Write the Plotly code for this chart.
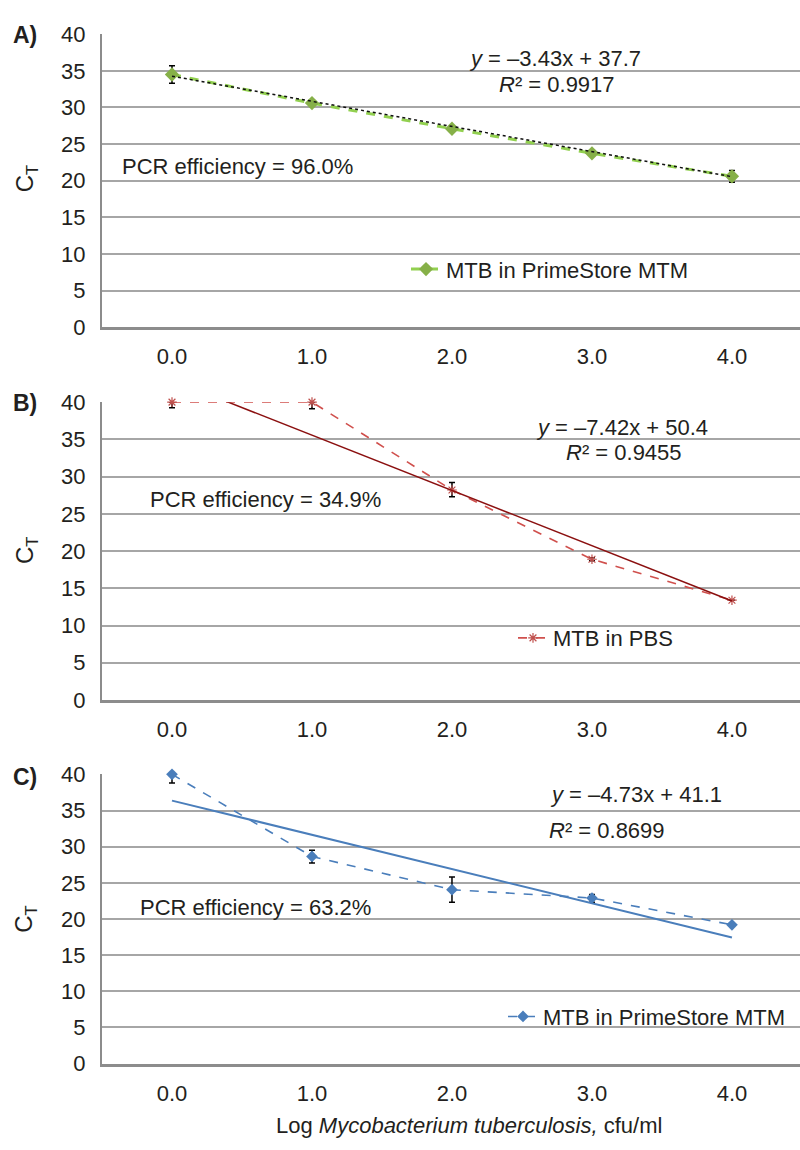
import plotly.graph_objects as go

# ---------------- data ----------------
log_cfu = [0, 1, 2, 3, 4]
tick_labels = ["0.0", "1.0", "2.0", "3.0", "4.0"]

# Panel A: MTB in PrimeStore MTM
a_ct = [34.5, 30.6, 27.1, 23.75, 20.6]
a_err_plus = [1.2, 0.2, 0.2, 0.2, 0.8]
a_err_minus = [1.2, 0.2, 0.2, 0.2, 0.8]

# Panel B: MTB in PBS
b_ct = [40.0, 40.0, 28.2, 18.9, 13.4]
b_err_plus = [0.0, 0.0, 1.0, 0.2, 0.0]
b_err_minus = [0.75, 0.9, 0.9, 0.2, 0.0]

# Panel C: MTB in PrimeStore MTM
c_ct = [40.0, 28.65, 24.05, 22.9, 19.2]
c_err_plus = [0.0, 0.85, 1.75, 0.5, 0.0]
c_err_minus = [1.2, 0.9, 1.75, 0.6, 0.0]

# Linear trend lines (Excel fit, x = category index 1..5)
slopes = [-3.43, -7.42, -4.73]
intercepts = [37.7, 50.4, 41.1]
r2_values = ["0.9917", "0.9455", "0.8699"]
efficiencies = ["96.0%", "34.9%", "63.2%"]
series_names = ["MTB in PrimeStore MTM", "MTB in PBS", "MTB in PrimeStore MTM"]
panel_letters = ["A", "B", "C"]

FONT = "Liberation Sans, Arial, Helvetica, sans-serif"
TXT = "#231F20"
W, H = 800, 1150

def px_x(p):
    return p / W

def px_y(p):
    return 1 - p / H

fig = go.Figure()

panels = [
    dict(ct=a_ct, ep=a_err_plus, em=a_err_minus,
         line=dict(color="#92D050", width=3, dash="dash"),
         marker=dict(symbol="diamond", size=11, color="#86B048"),
         trend=dict(color="#111111", width=1.5, dash="dot")),
    dict(ct=b_ct, ep=b_err_plus, em=b_err_minus,
         line=dict(color="#D0504D", width=1.6, dash="dash"),
         marker=dict(symbol="asterisk-open", size=8, color="#C0504D",
                     line=dict(color="#C0504D", width=1.2)),
         trend=dict(color="#8B1010", width=1.5)),
    dict(ct=c_ct, ep=c_err_plus, em=c_err_minus,
         line=dict(color="#4A7EBB", width=1.6, dash="dash"),
         marker=dict(symbol="diamond", size=9, color="#4A7EBB"),
         trend=dict(color="#4A7EBB", width=2)),
]

# pixel geometry of each panel (top of y=40, bottom of y=0)
panel_px = [(22.7, 322.3), (398.8, 703.3), (779.3, 1075.0)]
legend_pos = [(406, 263), (513, 640), (503, 1027)]

for i, p in enumerate(panels):
    ax = "" if i == 0 else str(i + 1)
    xref, yref = "x" + ax, "y" + ax
    leg = "legend" if i == 0 else "legend" + str(i + 1)
    fig.add_trace(go.Scatter(
        x=log_cfu, y=p["ct"], mode="lines+markers",
        name=series_names[i], line=p["line"], marker=p["marker"],
        error_y=dict(type="data", symmetric=False, array=p["ep"],
                     arrayminus=p["em"], color="#000000", thickness=1.5, width=3),
        cliponaxis=False, xaxis=xref, yaxis=yref, legend=leg, showlegend=True,
    ))
    xs = [log_cfu[0], log_cfu[-1]]
    ys = [slopes[i] * (x + 1) + intercepts[i] for x in xs]
    fig.add_trace(go.Scatter(
        x=xs, y=ys, mode="lines", line=p["trend"], showlegend=False,
        hoverinfo="skip", xaxis=xref, yaxis=yref,
    ))

    top, bot = panel_px[i]
    dom = [1 - bot / H, 1 - top / H]
    fig.update_layout(**{
        "xaxis" + ax: dict(
            domain=[102 / W, 1.0], range=[-0.5, 4.486],
            tickvals=log_cfu, ticktext=tick_labels,
            showgrid=False, zeroline=False, showline=True,
            linecolor="#8C8C8C", linewidth=2.5, ticks="",
            tickfont=dict(family=FONT, size=22, color=TXT),
            ticklabelstandoff=8, anchor=yref,
        ),
        "yaxis" + ax: dict(
            domain=dom, range=[0, 40], dtick=5, tick0=0,
            showgrid=True, gridcolor="#A6A6A6", gridwidth=1.5,
            zeroline=False, showline=True, linecolor="#8C8C8C", linewidth=2,
            ticks="", tickfont=dict(family=FONT, size=22, color=TXT),
            ticklabelstandoff=10, anchor=xref,
        ),
        leg: dict(
            x=px_x(legend_pos[i][0]), y=px_y(legend_pos[i][1]),
            xanchor="left", yanchor="middle", bgcolor="rgba(0,0,0,0)",
            font=dict(family=FONT, size=22, color=TXT), itemwidth=30,
        ),
    })

# ---------------- annotations ----------------
ann = []
def add_text(text, x, y, xanchor="left", size=22, angle=0):
    ann.append(dict(text=text, x=px_x(x), y=px_y(y), xref="paper", yref="paper",
                    xanchor=xanchor, yanchor="middle", showarrow=False,
                    textangle=angle, font=dict(family=FONT, size=size, color=TXT)))

def eq_text(i):
    return "<i>y</i> = \u2013%.2fx + %.1f" % (abs(slopes[i]), intercepts[i])

# Panel A
add_text(eq_text(0), 555, 48, "center")
add_text("<i>R</i>\u00b2 = " + r2_values[0], 557, 74, "center")
add_text("PCR efficiency = " + efficiencies[0], 120, 158)
# Panel B
add_text(eq_text(1), 622, 425, "center")
add_text("<i>R</i>\u00b2 = " + r2_values[1], 624, 450, "center")
add_text("PCR efficiency = " + efficiencies[1], 148, 498)
# Panel C
add_text(eq_text(2), 548, 800)
add_text("<i>R</i>\u00b2 = " + r2_values[2], 547, 837)
add_text("PCR efficiency = " + efficiencies[2], 138, 915)

# panel letters and CT titles
for i, (ly, cy) in enumerate([(24, 170), (400, 550), (782, 927)]):
    add_text("<b>%s)</b>" % panel_letters[i], 11, ly, size=23)
    add_text("C<sub>T</sub>", 26, cy, "center", size=24, angle=-90)

add_text("Log <i>Mycobacterium tuberculosis,</i> cfu/ml", 469, 1138, "center")

fig.update_layout(
    width=W, height=H, margin=dict(l=0, r=0, t=0, b=0),
    paper_bgcolor="white", plot_bgcolor="white",
    annotations=ann, font=dict(family=FONT, color=TXT),
)

fig.write_html("out.html", config={"displayModeBar": False},
               post_script="document.body.style.margin='0';document.body.style.overflow='hidden';")
